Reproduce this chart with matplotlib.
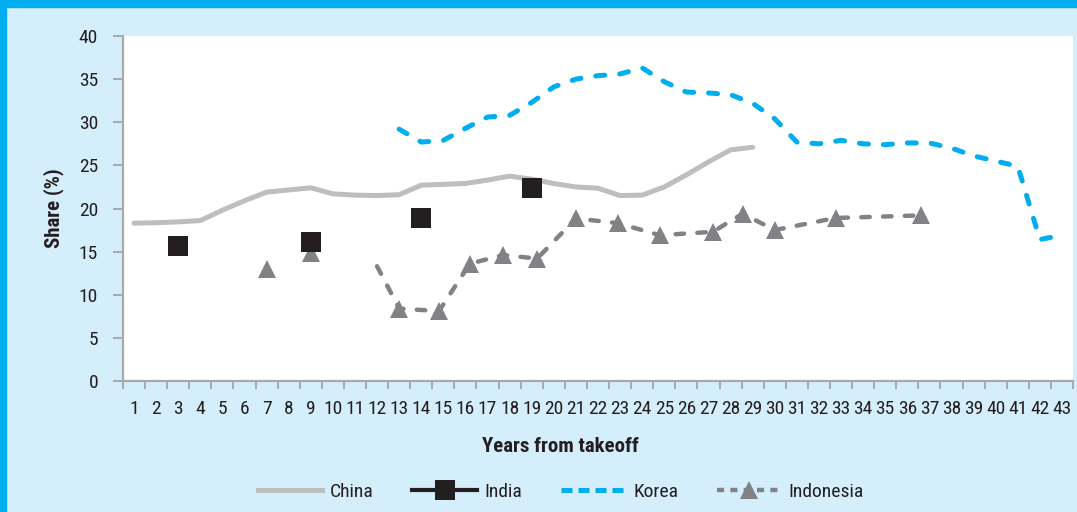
import numpy as np
import matplotlib
matplotlib.use("Agg")
import matplotlib.pyplot as plt
from matplotlib import font_manager
from matplotlib.lines import Line2D
from matplotlib.patches import Rectangle

# ---------------- data ----------------
year_labels = [str(i) for i in range(1, 44)]

china_years = list(range(1, 30))
china_share = [18.3, 18.35, 18.45, 18.6, 19.8, 20.9, 21.9, 22.15, 22.4, 21.7,
               21.55, 21.5, 21.6, 22.7, 22.8, 22.9, 23.3, 23.75, 23.4, 22.9,
               22.5, 22.35, 21.5, 21.55, 22.5, 23.9, 25.4, 26.8, 27.1]

india_years = [3, 9, 14, 19]
india_share = [15.7, 16.1, 18.9, 22.4]

korea_years = list(range(13, 44))
korea_share = [29.2, 27.7, 27.9, 29.3, 30.6, 30.8, 32.3, 34.1, 35.0, 35.4,
               35.6, 36.3, 34.7, 33.5, 33.4, 33.2, 32.2, 30.4, 27.7, 27.5,
               27.9, 27.5, 27.4, 27.6, 27.6, 27.0, 26.1, 25.5, 24.9, 16.4, 16.9]

indo_years = [7, 9, 12, 13.0, 14.8, 16.2, 17.7, 19.25, 21.0, 22.9, 24.8,
              27.2, 28.55, 30.0, 32.75, 36.6]
indo_share = [13.0, 14.8, 13.3, 8.4, 8.1, 13.6, 14.6, 14.2, 18.85, 18.3, 16.9,
              17.3, 19.4, 17.5, 18.9, 19.2]
indo_marked = [True, True, False, True, True, True, True, True, True, True,
               True, True, True, True, True, True]
indo_line_start = 12  # dashed line connects points from this year on

y_ticks = [0, 5, 10, 15, 20, 25, 30, 35, 40]

# ---------------- style ----------------
names = {f.name for f in font_manager.fontManager.ttflist}
FONT = "Liberation Sans"
for cand in ("Roboto Condensed", "Archivo Narrow", "PT Sans Narrow"):
    if cand in names:
        FONT = cand
        break
plt.rcParams["font.family"] = [FONT, "DejaVu Sans"]

BG = "#D5EEFB"
BLUE = "#00AEEF"
CHINA_C = "#BCBEC0"
INDIA_C = "#231F20"
INDO_C = "#808285"
SPINE_C = "#A7A9AC"
TEXT_C = "#231F20"

W, H = 1077, 512
fig = plt.figure(figsize=(W / 100, H / 100), dpi=100, facecolor=BG)
ax = fig.add_axes([123 / W, 1 - 381 / H, 950 / W, 345 / H])
ax.set_facecolor("white")

# decorative frame bars
fig.patches.append(Rectangle((0, 1 - 7 / H), 1, 7 / H, transform=fig.transFigure,
                             color=BLUE, zorder=0))
fig.patches.append(Rectangle((0, 0), 6 / W, 1, transform=fig.transFigure,
                             color=BLUE, zorder=0))

# China
ax.plot(china_years, china_share, color=CHINA_C, lw=3.6, solid_capstyle="round",
        solid_joinstyle="round", zorder=2)

# India (isolated points on a line series)
all_years = np.arange(1, 44)
india_full = np.full(all_years.shape, np.nan)
for yv, sv in zip(india_years, india_share):
    india_full[yv - 1] = sv
ax.plot(all_years, india_full, color=INDIA_C, lw=3, marker="s", markersize=14,
        markeredgewidth=0, zorder=5)

# Korea
ax.plot(korea_years, korea_share, color=BLUE, lw=3.6, linestyle=(0, (1.8, 3.0)),
        dash_capstyle="round", solid_joinstyle="round", zorder=3)

# Indonesia
ix = np.array(indo_years, dtype=float)
iy = np.array(indo_share, dtype=float)
line_mask = ix >= indo_line_start
ax.plot(ix[line_mask], iy[line_mask], color=INDO_C, lw=3.2,
        linestyle=(0, (1.9, 3.0)), dash_capstyle="round", zorder=3)
mk = np.array(indo_marked)
ax.plot(ix[mk], iy[mk], linestyle="none", marker="^", markersize=12.5,
        color=INDO_C, markeredgewidth=0, zorder=4)

# axes
ax.set_xlim(0.5, 43.5)
ax.set_ylim(0, 40)
for s in ("top", "right"):
    ax.spines[s].set_visible(False)
for s in ("left", "bottom"):
    ax.spines[s].set_color(SPINE_C)
    ax.spines[s].set_linewidth(1.6)

ax.set_yticks(y_ticks)
ax.set_yticklabels([str(v) for v in y_ticks])
ax.tick_params(axis="y", length=7, width=1.4, color=SPINE_C, labelcolor=TEXT_C,
               labelsize=14, pad=11, direction="out")

ax.set_xticks(all_years)
ax.set_xticklabels(year_labels)
ax.set_xticks(np.arange(0.5, 44, 1.0), minor=True)
ax.tick_params(axis="x", which="major", length=0, labelcolor=TEXT_C,
               labelsize=14, pad=14)
ax.tick_params(axis="x", which="minor", length=6, width=1.4, color=SPINE_C,
               direction="out")

ax.set_ylabel("Share (%)", fontsize=15, fontweight="bold", color=TEXT_C)
ax.yaxis.set_label_coords((64 - 123) / 950, 0.5)
ax.set_xlabel("Years from takeoff", fontsize=15, fontweight="bold", color=TEXT_C)
ax.xaxis.set_label_coords((560.5 - 123) / 950, (381 - 437) / 345)

handles = [
    Line2D([], [], color=CHINA_C, lw=3.6),
    Line2D([], [], color=INDIA_C, lw=3, marker="s", markersize=14, markeredgewidth=0),
    Line2D([], [], color=BLUE, lw=3.6, linestyle=(0, (2.2, 1.2))),
    Line2D([], [], color=INDO_C, lw=3.2, linestyle=(0, (1.6, 1.4)), marker="^",
           markersize=12.5, markeredgewidth=0),
]
labels = ["China", "India", "Korea", "Indonesia"]
fig.legend(handles, labels, loc="center", bbox_to_anchor=(561 / W, 1 - 492 / H),
           ncol=4, frameon=False, fontsize=14, handlelength=3.3,
           handletextpad=0.4, columnspacing=2.0, labelcolor=TEXT_C)

fig.savefig("out.png", dpi=100, facecolor=BG)
